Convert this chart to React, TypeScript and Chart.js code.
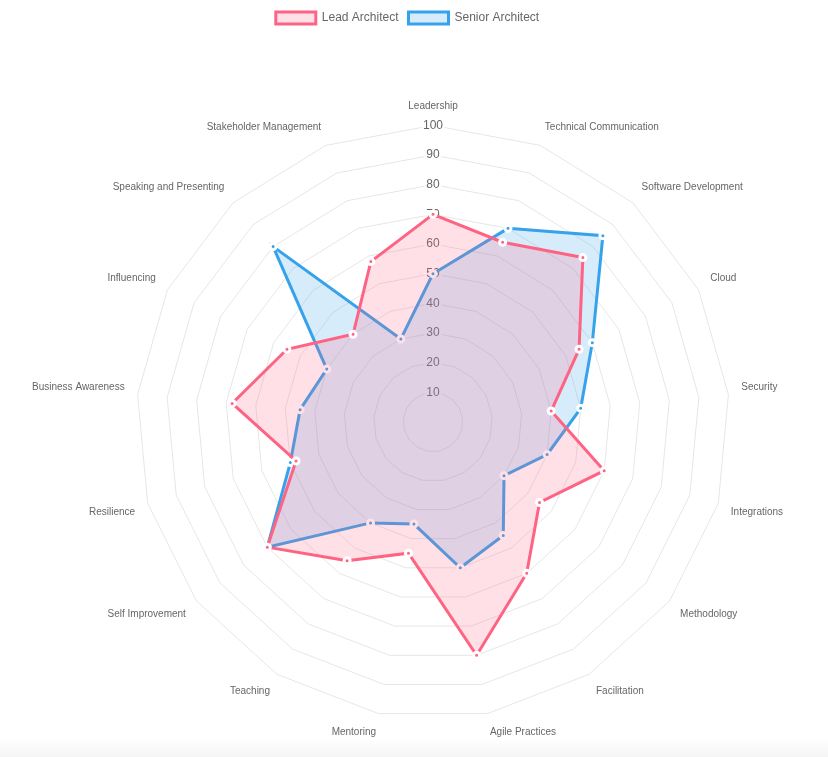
import React, { useEffect, useRef } from "react";
import { Chart, registerables } from "chart.js";

Chart.register(...registerables);

const labels = [
  "Leadership",
  "Technical Communication",
  "Software Development",
  "Cloud",
  "Security",
  "Integrations",
  "Methodology",
  "Facilitation",
  "Agile Practices",
  "Mentoring",
  "Teaching",
  "Self Improvement",
  "Resilience",
  "Business Awareness",
  "Influencing",
  "Speaking and Presenting",
  "Stakeholder Management",
];

const leadArchitect = [70, 65, 75, 55, 40, 60, 45, 60, 80, 45, 55, 70, 48, 68, 55, 40, 58];
const seniorArchitect = [50, 70, 85, 60, 50, 40, 30, 45, 50, 35, 40, 70, 50, 45, 40, 80, 30];

export default function App() {
  const canvasRef = useRef<HTMLCanvasElement | null>(null);

  useEffect(() => {
    if (!canvasRef.current) return;
    const chart = new Chart(canvasRef.current, {
      type: "radar",
      data: {
        labels,
        datasets: [
          {
            label: "Lead Architect",
            data: leadArchitect,
            borderColor: "rgb(255, 99, 132)",
            backgroundColor: "rgba(255, 99, 132, 0.2)",
            pointBackgroundColor: "rgb(255, 99, 132)",
            pointBorderColor: "#fff",
            borderWidth: 3,
          },
          {
            label: "Senior Architect",
            data: seniorArchitect,
            borderColor: "rgb(54, 162, 235)",
            backgroundColor: "rgba(54, 162, 235, 0.2)",
            pointBackgroundColor: "rgb(54, 162, 235)",
            pointBorderColor: "#fff",
            borderWidth: 3,
          },
        ],
      },
      options: {
        animation: false,
        responsive: true,
        maintainAspectRatio: false,
        plugins: {
          legend: { position: "top" },
        },
        scales: {
          r: {
            min: 0,
            max: 100,
            ticks: { stepSize: 10 },
            angleLines: { display: false },
          },
        },
      },
    });
    return () => chart.destroy();
  }, []);

  return (
    <>
      <div style={{ width: 803, height: 803, marginTop: -6, marginLeft: -2, position: "relative" }}>
        <canvas ref={canvasRef} />
      </div>
      <div
        style={{
          position: "fixed",
          left: 0,
          right: 0,
          bottom: 0,
          height: 18,
          background: "linear-gradient(rgba(0,0,0,0), rgba(0,0,0,0.045))",
          pointerEvents: "none",
        }}
      />
    </>
  );
}
